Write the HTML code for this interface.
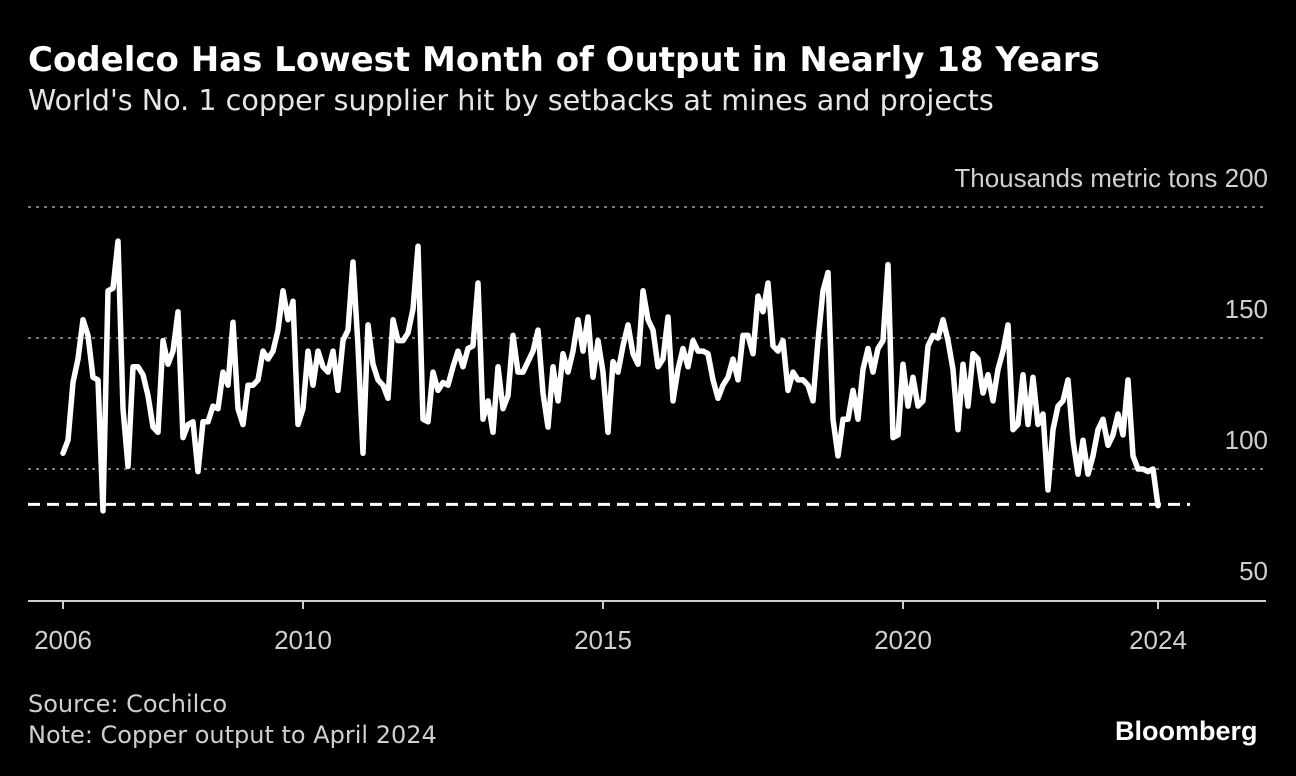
<!DOCTYPE html>
<html><head><meta charset="utf-8">
<style>
html,body{margin:0;padding:0;background:#000;}
body{width:1296px;height:776px;overflow:hidden;font-family:"Liberation Sans",sans-serif;color:#fff;position:relative;}
.t{position:absolute;white-space:nowrap;}
</style></head>
<body>
<div class="t" style="left:28px;top:40px;font-size:34px;font-weight:bold;font-family:'DejaVu Sans',sans-serif;">Codelco Has Lowest Month of Output in Nearly 18 Years</div>
<div class="t" style="left:28px;top:83px;font-size:28.6px;color:#e6e6e6;font-family:'DejaVu Sans',sans-serif;">World's No. 1 copper supplier hit by setbacks at mines and projects</div>
<svg id="chart" width="1296" height="776" style="position:absolute;left:0;top:0;"></svg>
<div class="t" style="left:28px;top:690px;font-size:24px;color:#cfcfcf;font-family:'DejaVu Sans',sans-serif;">Source: Cochilco</div>
<div class="t" style="left:28px;top:721px;font-size:24px;color:#cfcfcf;font-family:'DejaVu Sans',sans-serif;">Note: Copper output to April 2024</div>
<div class="t" style="left:1115px;top:716px;font-size:27px;font-weight:bold;">Bloomberg</div>
<script>
const yTicks=[50,100,150,200];
const xTickYears=[2006,2010,2015,2020,2024.25];
const xTickLabels=["2006","2010","2015","2020","2024"];
const startYear=2006;
const refValue=86.5;
const output=[
106,111,133,142,157,151,135,134,84,168,169,187,
123,101,139,139,136,128,116,114,149,140,145,160,
112,117,118,99,118,118,124,123,137,132,156,123,
117,132,132,134,145,142,145,153,168,157,164,117,
123,145,132,145,139,137,145,130,149,153,179,147,
106,155,140,134,132,127,157,149,149,152,161,185,
119,118,137,130,133,132,139,145,139,146,147,171,
119,126,114,139,123,128,151,137,137,141,145,153,
129,116,139,126,144,137,145,157,145,158,135,149,
137,114,141,137,147,155,144,140,168,157,153,139,
142,158,126,138,146,139,149,145,145,144,134,127,
132,135,142,134,151,151,144,166,160,171,147,145,
149,130,137,134,134,132,126,149,168,175,119,105,
119,119,130,119,138,146,137,146,149,178,112,113,
140,124,135,124,126,147,151,150,157,149,138,115,
140,124,144,142,129,136,126,138,145,155,115,117,
136,117,135,117,121,92,115,124,126,134,111,98,
111,98,105,115,119,109,113,121,113,134,105,100,
100,99,100,86];
const svg=document.getElementById('chart');
const NS='http://www.w3.org/2000/svg';
function X(t){return 63+(t-startYear)*60;}
function Y(v){return 207+(200-v)*2.62;}
function mk(tag,attrs){const e=document.createElementNS(NS,tag);for(const k in attrs)e.setAttribute(k,attrs[k]);svg.appendChild(e);return e;}
yTicks.forEach(v=>{
  if(v>50){
    const g=mk('line',{x1:28,x2:1266,y1:Y(v),y2:Y(v),stroke:'#7a7a7a','stroke-width':2,'stroke-dasharray':'3,5'});
    
    
  }
  const t=mk('text',{x:1268,y:Y(v)-20,'text-anchor':'end','font-size':26,fill:'#d0d0d0','font-family':'Liberation Sans, sans-serif'});
  t.textContent=v===200?'Thousands metric tons  200':String(v);
  
  
});
const base=mk('line',{x1:28,x2:1266,y1:601,y2:601,stroke:'#cfcfcf','stroke-width':2});


xTickYears.forEach((yr,i)=>{
  const tk=mk('line',{x1:X(yr),x2:X(yr),y1:601,y2:609,stroke:'#cfcfcf','stroke-width':2});
  
  
  const t=mk('text',{x:X(yr),y:649,'text-anchor':'middle','font-size':26,fill:'#d0d0d0','font-family':'Liberation Sans, sans-serif'});
  t.textContent=xTickLabels[i];
  
  
});
const ref=mk('line',{x1:28,x2:1190,y1:Y(refValue),y2:Y(refValue),stroke:'#fff','stroke-width':3,'stroke-dasharray':'12,7'});


const pts=output.map((v,i)=>X(startYear+i/12).toFixed(1)+','+Y(v).toFixed(1)).join(' ');
const line=mk('polyline',{points:pts,fill:'none',stroke:'#fff','stroke-width':5.5,'stroke-linejoin':'round','stroke-linecap':'round'});


</script>
</body></html>
